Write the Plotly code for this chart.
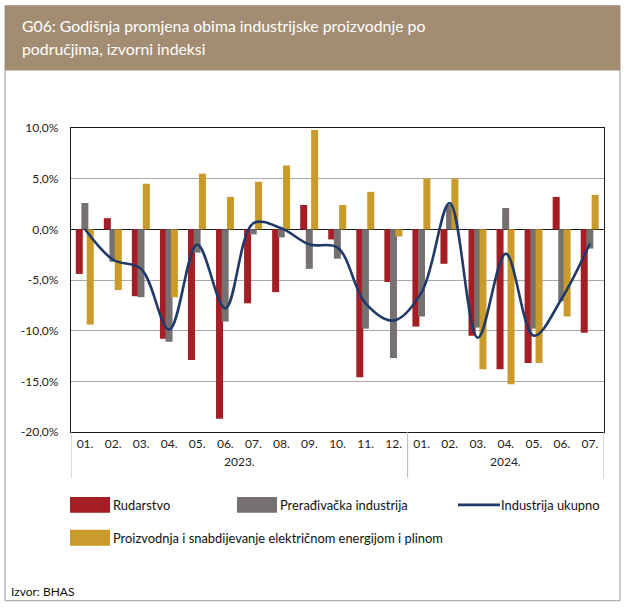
import plotly.graph_objects as go

# ---------------- data ----------------
months = ["01.", "02.", "03.", "04.", "05.", "06.", "07.", "08.", "09.", "10.", "11.", "12.",
          "01.", "02.", "03.", "04.", "05.", "06.", "07."]
years = ["2023."] * 12 + ["2024."] * 7

rudarstvo = [-4.4, 1.1, -6.6, -10.8, -12.9, -18.7, -7.3, -6.2, 2.4, -1.0, -14.6, -5.2,
             -9.6, -3.4, -10.5, -13.8, -13.2, 3.2, -10.2]
preradjivacka = [2.6, -3.2, -6.7, -11.1, -2.3, -9.1, -0.5, -0.8, -3.9, -2.9, -9.8, -12.7,
                 -8.6, 2.4, -9.7, 2.1, -9.8, -7.1, -1.9]
energija = [-9.4, -6.0, 4.5, -6.7, 5.5, 3.2, 4.7, 6.3, 9.8, 2.4, 3.7, -0.7,
            5.0, 5.0, -13.8, -15.3, -13.2, -8.6, 3.4]
ukupno = [0.0, -3.0, -3.9, -9.9, -1.5, -7.8, 0.6, 0.1, -1.5, -1.8, -7.3, -9.0,
          -6.2, 2.6, -10.7, -2.4, -10.5, -6.8, -1.4]

y_ticks = [-20, -15, -10, -5, 0, 5, 10]

names = ["Rudarstvo", "Prerađivačka industrija", "Industrija ukupno",
         "Proizvodnja i snabdijevanje električnom energijom i plinom"]
title_lines = ["G06: Godišnja promjena obima industrijske proizvodnje po",
               "područjima, izvorni indeksi"]
source = "Izvor: BHAS"

# ---------------- styling ----------------
W, H = 626, 608
L, R, T, B = 71, 604, 127.5, 432
RED, GRAY, YEL, NAVY = "#A51E25", "#767171", "#C99A2C", "#1F3A68"
BANNER = "#A38D72"
FONT = "Lato"


def px(x):
    return (x - L) / (R - L)


def py(y):
    return (B - y) / (B - T)


x = list(range(len(months)))

fig = go.Figure()
bar_w = 0.25
for vals, color, off, nm in [(rudarstvo, RED, -0.33, names[0]),
                             (preradjivacka, GRAY, -0.13, names[1]),
                             (energija, YEL, 0.06, names[3])]:
    fig.add_bar(x=x, y=vals, name=nm, marker=dict(color=color, line=dict(width=0)),
                width=bar_w, offset=off, showlegend=False)

fig.add_scatter(x=x, y=ukupno, name=names[2], mode="lines",
                line=dict(color=NAVY, width=2.6, shape="spline", smoothing=1.0),
                showlegend=False)

shapes = []
annotations = []

# outer frame
shapes.append(dict(type="rect", xref="paper", yref="paper", x0=px(5), x1=px(620), y0=py(601), y1=py(5),
                   line=dict(color="#9a9a9a", width=1), layer="below"))
# title banner
shapes.append(dict(type="rect", xref="paper", yref="paper", x0=px(5), x1=px(620), y0=py(70), y1=py(5),
                   line=dict(width=0), fillcolor=BANNER, layer="below"))
for i, t in enumerate(title_lines):
    annotations.append(dict(text=t, xref="paper", yref="paper", x=px(20), y=py(25 + i * 23),
                            xanchor="left", yanchor="middle", showarrow=False,
                            font=dict(family=FONT, size=15.8, color="white")))

# year separators and labels
bounds = [-0.5]
for i in range(1, len(years)):
    if years[i] != years[i - 1]:
        bounds.append(i - 0.5)
bounds.append(len(years) - 0.5)
for b in bounds:
    shapes.append(dict(type="line", xref="x", yref="paper", x0=b, x1=b, y0=0, y1=py(478),
                       line=dict(color="#b5b5b5", width=1)))
for yr in dict.fromkeys(years):
    idx = [i for i, v in enumerate(years) if v == yr]
    annotations.append(dict(text=yr, xref="x", yref="paper", x=sum(idx) / len(idx), y=py(462),
                            xanchor="center", yanchor="middle", showarrow=False,
                            font=dict(family=FONT, size=12, color="#222")))

# manual legend
leg = [(70, 505, names[0], RED, "box"), (237, 505, names[1], GRAY, "box"),
       (458, 505, names[2], NAVY, "line"), (70, 538, names[3], YEL, "box")]
for lx, ly, nm, col, kind in leg:
    if kind == "box":
        shapes.append(dict(type="rect", xref="paper", yref="paper", x0=px(lx), x1=px(lx + 40),
                           y0=py(ly + 8), y1=py(ly - 8), fillcolor=col, line=dict(width=0)))
    else:
        shapes.append(dict(type="line", xref="paper", yref="paper", x0=px(lx), x1=px(lx + 42),
                           y0=py(ly), y1=py(ly), line=dict(color=col, width=2.6)))
    annotations.append(dict(text=nm, xref="paper", yref="paper", x=px(lx + 41), y=py(ly),
                            xanchor="left", yanchor="middle", showarrow=False,
                            font=dict(family=FONT, size=12.9, color="#111")))

annotations.append(dict(text=source, xref="paper", yref="paper", x=px(9), y=py(592),
                        xanchor="left", yanchor="middle", showarrow=False,
                        font=dict(family=FONT, size=12, color="#111")))

fig.update_layout(
    width=W, height=H,
    margin=dict(l=L, r=W - R, t=T, b=H - B),
    paper_bgcolor="white", plot_bgcolor="white",
    barmode="overlay",
    font=dict(family=FONT, size=12, color="#222"),
    shapes=shapes, annotations=annotations,
    showlegend=False,
)
fig.update_xaxes(range=[-0.5, len(months) - 0.5], tickmode="array", tickvals=x, ticktext=months,
                 showgrid=False, zeroline=False, showline=True, mirror=True,
                 linecolor="#1a1a1a", linewidth=1.3, ticks="", tickangle=0,
                 tickfont=dict(family=FONT, size=12, color="#222"), ticklabelstandoff=0)
fig.update_yaxes(range=[-20, 10], tickmode="array", tickvals=y_ticks,
                 ticktext=[f"{v:.1f}".replace(".", ",") + "%" for v in y_ticks],
                 showgrid=True, gridcolor="#a8a8a8", gridwidth=1,
                 zeroline=True, zerolinecolor="#1a1a1a", zerolinewidth=1.3,
                 showline=True, mirror=True, linecolor="#1a1a1a", linewidth=1.3, ticks="",
                 tickfont=dict(family=FONT, size=12, color="#222"), ticklabelstandoff=9)

fig.write_html("out.html", config={"displayModeBar": False},
               post_script="document.body.style.margin='0';document.body.style.padding='0';")
